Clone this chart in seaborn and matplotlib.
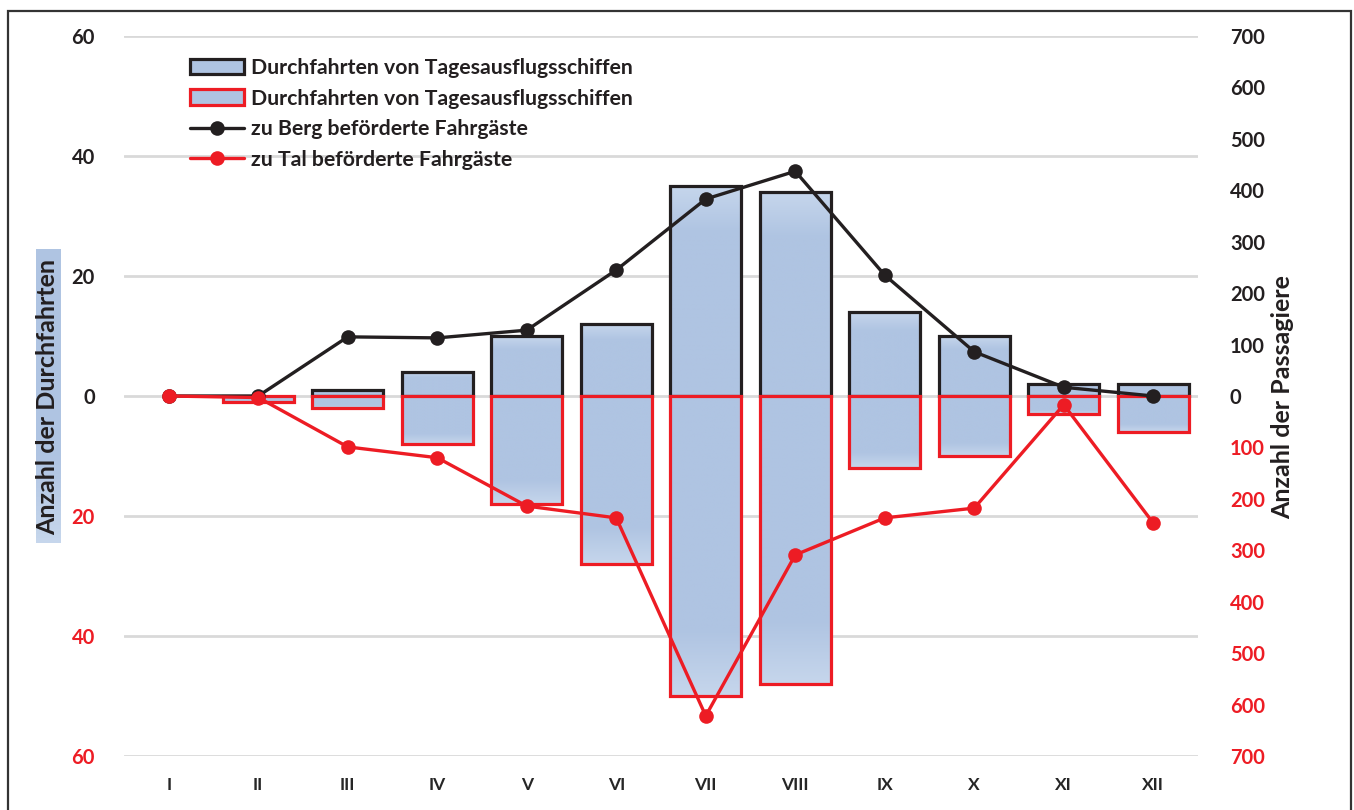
import numpy as np
import pandas as pd
import matplotlib
matplotlib.use("Agg")
import matplotlib.pyplot as plt
from matplotlib.patches import Rectangle, Patch
from matplotlib.lines import Line2D
from matplotlib.colors import to_rgb
import seaborn as sns

# Monthly data
months = ["I", "II", "III", "IV", "V", "VI", "VII", "VIII", "IX", "X", "XI", "XII"]
trips_up = [0, 0, 1, 4, 10, 12, 35, 34, 14, 10, 2, 2]          # Durchfahrten zu Berg
trips_down = [0, 1, 2, 8, 18, 28, 50, 48, 12, 10, 3, 6]        # Durchfahrten zu Tal
pax_up = [0, 0, 115, 113, 128, 245, 383, 437, 235, 86, 17, 0]  # zu Berg befoerderte Fahrgaeste
pax_down = [0, 3, 99, 120, 214, 237, 622, 309, 237, 218, 17, 247]  # zu Tal befoerderte Fahrgaeste

left_ticks = [-60, -40, -20, 0, 20, 40, 60]
right_ticks = list(range(-700, 701, 100))

sns.set_theme(style="white")
plt.rcParams["font.family"] = ["Lato", "DejaVu Sans"]

BLACK = "#231f20"
RED = "#ed1c24"
FILL = "#afc4e2"
FILL_LIGHT = "#c6d6ec"
GRID = "#d9d9d9"

df = pd.DataFrame({
    "month": months,
    "up": trips_up,
    "down": [-v for v in trips_down],
    "pos": np.arange(len(months)),
    "pax_up": pax_up,
    "pax_down": [-v for v in pax_down],
})

W, H = 1354, 810
fig = plt.figure(figsize=(W / 100, H / 100), dpi=100)
ax = fig.add_axes([124 / W, 1 - 756 / H, (1198 - 124) / W, (756 - 36) / H])

# bars: trips upstream (positive) and downstream (negative)
sns.barplot(data=df, x="month", y="up", ax=ax, color=FILL, saturation=1,
            width=0.79, edgecolor=BLACK, linewidth=2.3, zorder=2)
sns.barplot(data=df, x="month", y="down", ax=ax, color=FILL, saturation=1,
            width=0.79, edgecolor=RED, linewidth=2.3, zorder=3)

ax.set_ylim(-60, 60)
ax.set_xlim(-0.5, 11.5)

# gradient fill, lighter towards the outer end of each bar; empty bars hidden
c0 = np.array(to_rgb(FILL_LIGHT))
c1 = np.array(to_rgb(FILL))
t = np.linspace(0, 1, 256)
w = np.clip(t / 0.22, 0, 1)[:, None]
grad = (c0 * (1 - w) + c1 * w)[:, None, :]   # row 0 = outer end
for p in list(ax.patches):
    h = p.get_height()
    if h == 0:
        p.set_visible(False)
        continue
    x0, y0, bw = p.get_x(), p.get_y(), p.get_width()
    p.set_facecolor("none")
    ylo, yhi = min(y0, y0 + h), max(y0, y0 + h)
    img = grad if h > 0 else grad[::-1]
    im = ax.imshow(img, extent=(x0, x0 + bw, ylo, yhi), origin="upper",
                   aspect="auto", zorder=p.get_zorder() - 0.1, interpolation="bilinear")
    im.set_clip_path(p)
ax.set_xlim(-0.5, 11.5)
ax.set_ylim(-60, 60)

ax.set_yticks(left_ticks)
ax.set_yticklabels([str(abs(v)) for v in left_ticks])
for lab, v in zip(ax.get_yticklabels(), left_ticks):
    lab.set_color(RED if v < 0 else BLACK)
    lab.set_fontweight("bold")
    lab.set_fontsize(14.5)
ax.tick_params(axis="y", length=0, pad=21)
ax.tick_params(axis="x", length=0, pad=15)
for lab in ax.get_xticklabels():
    lab.set_fontweight("bold")
    lab.set_fontsize(12.5)
    lab.set_color("#262626")
ax.set_xlabel("")
ax.set_ylabel("")
ax.grid(axis="y", color=GRID, linewidth=2, zorder=0)
ax.set_axisbelow(True)
for s in ax.spines.values():
    s.set_visible(False)

# passenger lines on secondary axis
ax2 = ax.twinx()
sns.lineplot(data=df, x="pos", y="pax_up", ax=ax2, color=BLACK, linewidth=2.4,
             marker="o", markersize=10.5, markeredgewidth=0)
sns.lineplot(data=df, x="pos", y="pax_down", ax=ax2, color=RED, linewidth=2.4,
             marker="o", markersize=10.5, markeredgewidth=0)
ax2.set_ylim(-700, 700)
ax2.set_xlim(-0.5, 11.5)
ax2.set_yticks(right_ticks)
ax2.set_yticklabels([str(abs(v)) for v in right_ticks])
for lab, v in zip(ax2.get_yticklabels(), right_ticks):
    lab.set_color(RED if v < 0 else BLACK)
    lab.set_fontweight("bold")
    lab.set_fontsize(14.5)
ax2.tick_params(axis="y", length=0, pad=23)
ax2.set_ylabel("")
ax2.set_xlabel("")
ax2.grid(False)
for s in ax2.spines.values():
    s.set_visible(False)

# axis titles
box = np.array([c0 * (1 - s) + c1 * s for s in np.clip(np.linspace(1, 0, 64) / 0.3, 0, 1)])[:, None, :]
bax = fig.add_axes([36 / W, 1 - 543 / H, 24 / W, (543 - 249) / H], zorder=-1)
bax.imshow(box[::-1], aspect="auto", extent=(0, 1, 0, 1), origin="lower")
bax.set_axis_off()
fig.text(48 / W, 1 - 397 / H, "Anzahl der Durchfahrten", rotation=90,
         ha="center", va="center", fontsize=18, fontweight="bold", color=BLACK)
fig.text(1283 / W, 1 - 397 / H, "Anzahl der Passagiere", rotation=90,
         ha="center", va="center", fontsize=18, fontweight="bold", color=BLACK)

# legend
handles = [
    Patch(facecolor=FILL, edgecolor=BLACK, linewidth=2.3),
    Patch(facecolor=FILL, edgecolor=RED, linewidth=2.3),
    Line2D([], [], color=BLACK, linewidth=2.4, marker="o", markersize=10.5, markeredgewidth=0),
    Line2D([], [], color=RED, linewidth=2.4, marker="o", markersize=10.5, markeredgewidth=0),
]
labels = [
    "Durchfahrten von Tagesausflugsschiffen",
    "Durchfahrten von Tagesausflugsschiffen",
    "zu Berg beförderte Fahrgäste",
    "zu Tal beförderte Fahrgäste",
]
leg = ax2.legend(handles, labels, loc="upper left",
                 bbox_to_anchor=((190 - 124) / (1198 - 124), 1 - (58 - 36) / 720),
                 frameon=False, handlelength=2.55, handleheight=0.75, handletextpad=0.3,
                 labelspacing=0.5, borderaxespad=0, borderpad=0,
                 prop={"weight": "bold", "size": 15.3})
for txt in leg.get_texts():
    txt.set_color(BLACK)

# outer frame
fig.add_artist(Rectangle((8 / W, -0.05), (1351 - 8) / W, 1 - 11 / H + 0.05,
                         transform=fig.transFigure, fill=False, edgecolor="#333333",
                         linewidth=1.6))

fig.savefig("out.png", dpi=100)
